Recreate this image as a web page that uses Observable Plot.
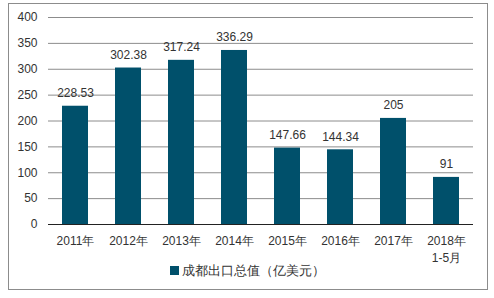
<!DOCTYPE html>
<html><head><meta charset="utf-8">
<script src="https://cdn.jsdelivr.net/npm/d3@7"></script>
<script src="https://cdn.jsdelivr.net/npm/@observablehq/plot@0.6"></script>
<style>
body{margin:0;background:#fff;font-family:"Liberation Sans",Arial,sans-serif;}
#wrap{position:relative;width:494px;height:298px;overflow:hidden;}
#frame{position:absolute;left:8px;top:3px;width:480px;height:287px;border:1px solid #8c8c8c;box-sizing:border-box;pointer-events:none;}
#chart{position:absolute;left:0;top:0;}
#legend{position:absolute;left:0;top:262px;width:494px;text-align:center;font-size:13px;color:#333;}
#legend span.sw{display:inline-block;width:9px;height:9px;background:#00506b;margin-right:3px;vertical-align:0px;}
</style></head>
<body><div id="wrap"><div id="frame"></div><div id="chart"></div>
<div id="legend"><span class="sw"></span>成都出口总值（亿美元）</div></div>
<script>
const categories = ["2011年","2012年","2013年","2014年","2015年","2016年","2017年","2018年\n1-5月"];
const values = [228.53, 302.38, 317.24, 336.29, 147.66, 144.34, 205, 91];
const valueLabels = ["228.53","302.38","317.24","336.29","147.66","144.34","205","91"];
const yTicks = [0,50,100,150,200,250,300,350,400];

const data = categories.map((c,i)=>({cat:c, v:values[i], label:valueLabels[i]}));
const color = "#00506b";

const chart = Plot.plot({
  width: 494, height: 298,
  marginLeft: 48, marginRight: 21, marginTop: 17, marginBottom: 74,
  style: {fontFamily: '"Liberation Sans", Arial, sans-serif', fontSize: "12px", color: "#333", background: "transparent"},
  x: {domain: categories, paddingInner: 0.51, paddingOuter: 0.255, label: null},
  y: {domain: [0, 400], label: null},
  marks: [
    Plot.ruleY(yTicks.filter(d=>d>0), {stroke: "#8c8c8c", strokeWidth: 1}),
    Plot.barY(data, {x: "cat", y: "v", fill: color}),
    Plot.ruleY([0], {stroke: "#222", strokeWidth: 1}),
    Plot.text(data, {x: "cat", y: "v", text: "label", dy: -13, fill: "#333", fontSize: 12}),
    Plot.axisY({ticks: yTicks, tickSize: 0, tickPadding: 11, fontSize: 12, fill: "#333"}),
    Plot.axisX({tickSize: 0, tickPadding: 9, fontSize: 12, fill: "#333", lineHeight: 1.4})
  ]
});
document.getElementById("chart").appendChild(chart);
</script></body></html>
